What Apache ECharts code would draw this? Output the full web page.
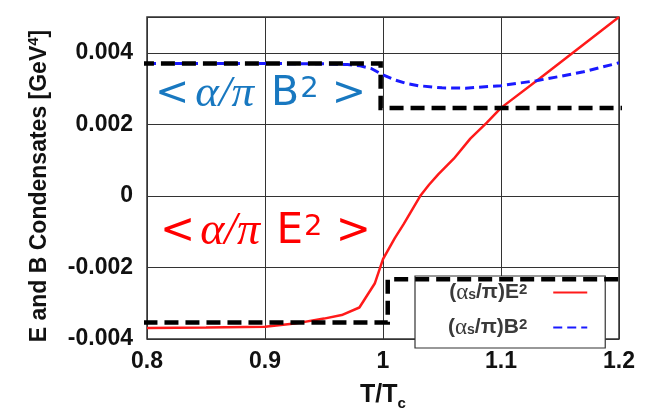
<!DOCTYPE html>
<html><head><meta charset="utf-8">
<script src="https://cdn.jsdelivr.net/npm/echarts@6/dist/echarts.min.js"></script>
<style>html,body{margin:0;padding:0;background:#fff}#c{width:646px;height:416px}</style>
</head><body><div id="c"></div>
<script>
// ---- data ----
const xTickLabels = ['0.8', '0.9', '1', '1.1', '1.2'];
const yTickLabels = ['-0.004', '-0.002', '0', '0.002', '0.004'];

const eTemps  = [0.80, 0.85, 0.90, 0.925, 0.95, 0.965, 0.98, 0.993, 1.00, 1.01, 1.0175, 1.025, 1.032, 1.039, 1.047, 1.06, 1.074, 1.088, 1.10, 1.133, 1.162, 1.20];
const eValues = [-0.00369, -0.00368, -0.00366, -0.00357, -0.00343, -0.00333, -0.00312, -0.00245, -0.00177, -0.00118, -0.00079, -0.00037, 0.00002, 0.00031, 0.00061, 0.00104, 0.0016, 0.00205, 0.00246, 0.00329, 0.00403, 0.0050];

const bTemps  = [0.80, 0.85, 0.90, 0.95, 0.97, 0.98, 0.99, 1.00, 1.01, 1.02, 1.03, 1.05, 1.07, 1.10, 1.13, 1.15, 1.17, 1.20];
const bValues = [0.0037, 0.0037, 0.0037, 0.00369, 0.00367, 0.00364, 0.00356, 0.00338, 0.00324, 0.00314, 0.00308, 0.00302, 0.00301, 0.00308, 0.00322, 0.00334, 0.00347, 0.00372];

const stepBTemps  = [0.794, 0.998, 0.998, 1.203];
const stepBValues = [0.0037, 0.0037, 0.00246, 0.00246];
const stepETemps  = [0.797, 1.004, 1.004, 1.209];
const stepEValues = [-0.00354, -0.00354, -0.00233, -0.00233];

const legendNames = ['E', 'B'];

// ---- build ----
const pairs = (xs, ys) => xs.map((x, i) => [x, ys[i]]);
const FONT = 'Liberation Sans';
const legendText = '#3a3a3a';

const chart = echarts.init(document.getElementById('c'), null, {renderer: 'canvas'});
chart.setOption({
  animation: false,
  backgroundColor: '#fff',
  grid: {left: 147, right: 27, top: 17, bottom: 72, show: true, borderColor: '#333', borderWidth: 1.5, backgroundColor: 'transparent'},
  xAxis: {
    type: 'value', min: 0.8, max: 1.2, interval: 0.1,
    name: '{m|T/T}{sub|c}', nameLocation: 'middle', nameGap: 44,
    nameTextStyle: {rich: {
      m: {fontFamily: FONT, fontWeight: 'bold', fontSize: 25, color: '#111', lineHeight: 28, verticalAlign: 'top'},
      sub: {fontFamily: FONT, fontWeight: 'bold', fontSize: 15, color: '#111', lineHeight: 28, verticalAlign: 'bottom', padding: [10, 0, 0, 0]}
    }},
    axisLine: {show: false},
    axisTick: {show: true, inside: true, length: 5, lineStyle: {color: '#333'}},
    axisLabel: {
      margin: 11, fontFamily: FONT, fontWeight: 'bold', fontSize: 23, color: '#111',
      formatter: v => { const i = Math.round((v - 0.8) / 0.1); return Math.abs(v - (0.8 + i * 0.1)) < 1e-9 ? xTickLabels[i] : ''; }
    },
    splitLine: {show: true, lineStyle: {color: '#333', width: 1}}
  },
  yAxis: {
    type: 'value', min: -0.004, max: 0.005, interval: 0.002,
    name: '{m|E and B Condensates [GeV}{sup|4}{m|]}', nameLocation: 'middle', nameGap: 93, nameRotate: 90,
    nameTextStyle: {padding: [0, 16, 0, 0], rich: {
      m: {fontFamily: FONT, fontWeight: 'bold', fontSize: 23, color: '#111', lineHeight: 28},
      sup: {fontFamily: FONT, fontWeight: 'bold', fontSize: 15, color: '#111', lineHeight: 16, verticalAlign: 'top'}
    }},
    axisLine: {show: false},
    axisTick: {show: true, inside: true, length: 5, lineStyle: {color: '#333'}},
    axisLabel: {
      margin: 14, fontFamily: FONT, fontWeight: 'bold', fontSize: 23, color: '#111',
      formatter: v => { const i = Math.round((v + 0.004) / 0.002); return (i >= 0 && i < yTickLabels.length && Math.abs(v - (-0.004 + i * 0.002)) < 1e-9) ? yTickLabels[i] : ''; }
    },
    splitLine: {show: true, lineStyle: {color: '#333', width: 1}}
  },
  legend: {
    orient: 'vertical', left: 415, top: 276,
    data: legendNames.map(n => ({name: n, itemStyle: {opacity: 0}})),
    align: 'right',
    itemWidth: 34, itemHeight: 12, itemGap: 12,
    padding: [5, 17, 9, 33],
    backgroundColor: '#fff', borderColor: '#333', borderWidth: 1.2, borderRadius: 0,
    formatter: n => '{p|(}{g|α}{sub|s}{p|/π)' + n + '}{sup|2}{sp|}',
    textStyle: {rich: {
      p: {fontFamily: FONT, fontWeight: 'bold', fontSize: 21, color: legendText, lineHeight: 20},
      g: {fontFamily: 'Liberation Serif', fontSize: 23, color: legendText, lineHeight: 20},
      sub: {fontFamily: FONT, fontWeight: 'bold', fontSize: 14, color: legendText, lineHeight: 20, verticalAlign: 'bottom', padding: [7, 0, 0, 0]},
      sup: {fontFamily: FONT, fontWeight: 'bold', fontSize: 15, color: legendText, lineHeight: 20, verticalAlign: 'top', padding: [0, 0, 6, 0]},
      sp: {width: 21}
    }}
  },
  series: [
    {
      name: 'E', type: 'line', data: pairs(eTemps, eValues), showSymbol: false, symbol: 'none', z: 3,
      lineStyle: {color: '#ff1a1a', width: 2.5}, itemStyle: {color: '#ff1a1a'}
    },
    {
      name: 'B', type: 'line', data: pairs(bTemps, bValues), showSymbol: false, symbol: 'none', z: 3,
      lineStyle: {color: '#1a1aff', width: 3, type: [9, 5]}, itemStyle: {color: '#1a1aff'}
    },
    {
      name: 'stepB', type: 'line', data: pairs(stepBTemps, stepBValues), showSymbol: false, symbol: 'none', clip: false, z: 6,
      lineStyle: {color: '#000', width: 4.5, type: [14, 7], join: 'miter'}
    },
    {
      name: 'stepE', type: 'line', data: pairs(stepETemps, stepEValues), showSymbol: false, symbol: 'none', clip: false, z: 6,
      lineStyle: {color: '#000', width: 4.5, type: [14, 7], join: 'miter'}
    }
  ],
  graphic: [
    {
      type: 'text', left: 155, top: 70, z: 10,
      style: {
        text: '{s|<}{i|α/π}{s| B}{sup|2}{s| >}',
        rich: {
          s: {fontFamily: 'DejaVu Sans', fontSize: 41, fill: '#1878c0', lineHeight: 48},
          sup: {fontFamily: 'DejaVu Sans', fontSize: 29, fill: '#1878c0', lineHeight: 26, verticalAlign: 'top', padding: [5, 0, 0, 1]},
          i: {fontFamily: 'Liberation Serif', fontStyle: 'italic', fontSize: 45, fill: '#1878c0', lineHeight: 48, padding: [0, 4, 0, 6]}
        }
      }
    },
    {
      type: 'text', left: 160, top: 207, z: 10,
      style: {
        text: '{s|<}{i|α/π}{s| E}{sup|2}{s| >}',
        rich: {
          s: {fontFamily: 'DejaVu Sans', fontSize: 42, fill: '#ff0000', lineHeight: 50},
          sup: {fontFamily: 'DejaVu Sans', fontSize: 29, fill: '#ff0000', lineHeight: 26, verticalAlign: 'top', padding: [6, 0, 0, 1]},
          i: {fontFamily: 'Liberation Serif', fontStyle: 'italic', fontSize: 46, fill: '#ff0000', lineHeight: 50, padding: [0, 3, 0, 5]}
        }
      }
    }
  ]
});
</script>
</body></html>
